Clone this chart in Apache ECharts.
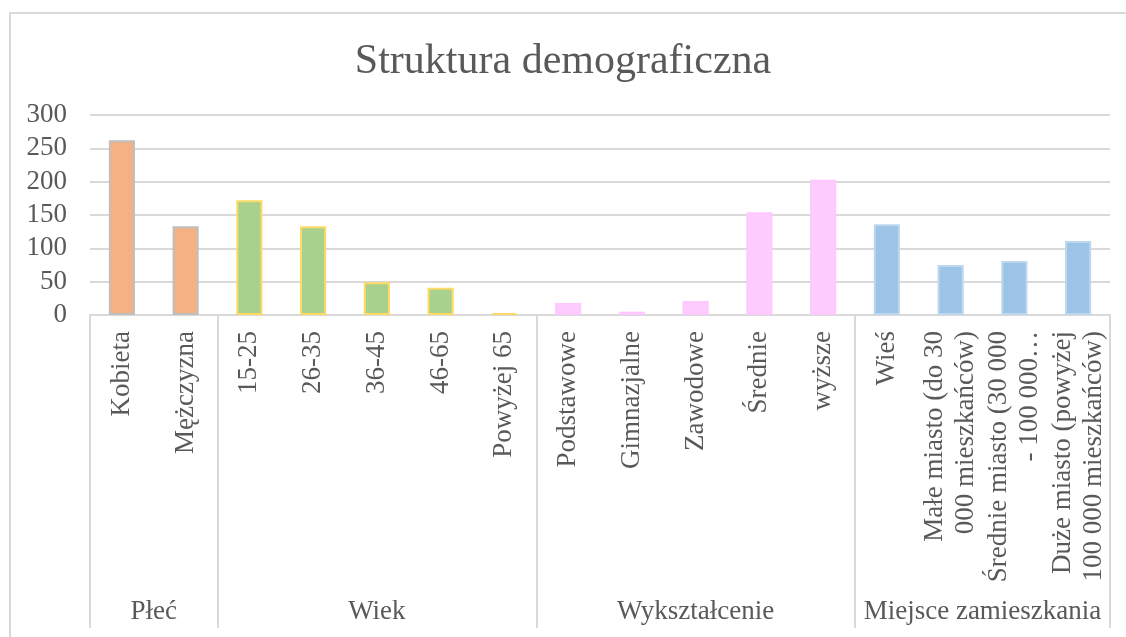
<!DOCTYPE html>
<html>
<head>
<meta charset="utf-8">
<script src="https://cdn.jsdelivr.net/npm/echarts@6/dist/echarts.min.js"></script>
<style>
  html, body { margin: 0; padding: 0; background: #fff; }
  #wrap { position: relative; width: 1126px; height: 637px; overflow: hidden; }
  #chart { position: absolute; left: 0; top: 0; width: 1126px; height: 637px; }
  #frame {
    position: absolute; left: 9px; top: 12px; width: 1300px; height: 800px;
    border-left: 2px solid #d9d9d9; border-top: 2px solid #d9d9d9;
    pointer-events: none;
  }
</style>
</head>
<body>
<div id="wrap">
  <div id="chart"></div>
  <div id="frame"></div>
</div>
<script>
// dane
const groups = ["Płeć", "Wiek", "Wykształcenie", "Miejsce zamieszkania"];
const groupSizes = [2, 5, 5, 4];
const categories = [
  "Kobieta", "Mężczyzna",
  "15-25", "26-35", "36-45", "46-65", "Powyżej 65",
  "Podstawowe", "Gimnazjalne", "Zawodowe", "Średnie", "wyższe",
  "Wieś", "Małe miasto (do 30\n000 mieszkańców)", "Średnie miasto (30 000\n- 100 000…", "Duże miasto (powyżej\n100 000 mieszkańców)"
];
const values = [262, 133, 172, 133, 49, 41, 3, 18, 5, 21, 154, 203, 136, 75, 81, 111];
const yMin = 0, yMax = 300, yStep = 50;

// kolory grup
const groupColors = ["#F4B183", "#A9D18E", "#FFCCFF", "#9DC3E6"];
const groupBorders = ["#BFBFBF", "#FFD966", "#FFC8FF", "#BDD7EE"];

const font = "'Liberation Serif', 'Times New Roman', serif";
const textColor = "#595959";
const lineColor = "#D9D9D9";

// indeks grupy dla kazdej kategorii
let groupOf = [];
groupSizes.forEach((n, g) => { for (let i = 0; i < n; i++) groupOf.push(g); });

// druga os: 2 punkty na kategorie (polowki), granice i srodki grup
let half = [];
let boundaries = [0];
let centers = {};
let acc = 0;
groupSizes.forEach((n, g) => {
  centers[acc + n] = groups[g];        // srodek grupy w polowkach
  acc += n * 2;
  boundaries.push(acc);
});
for (let i = 0; i <= categories.length * 2; i++) half.push(centers[i] || "");

let myChart = echarts.init(document.getElementById("chart"));
let option = {
  animation: false,
  title: {
    text: "Struktura demograficzna",
    left: "center",
    top: 36,
    textStyle: { fontFamily: font, fontSize: 42, fontWeight: "normal", color: textColor }
  },
  grid: { left: 90, right: 16, top: 115, bottom: 322, containLabel: false },
  xAxis: [
    {
      type: "category",
      data: categories,
      axisLine: { lineStyle: { color: lineColor, width: 2 } },
      axisTick: { show: false },
      axisLabel: {
        rotate: 90,
        interval: 0,
        margin: 16,
        fontFamily: font,
        fontSize: 27,
        lineHeight: 31,
        color: textColor
      }
    },
    {
      type: "category",
      position: "bottom",
      boundaryGap: false,
      data: half,
      axisLine: { show: false },
      axisTick: {
        show: true,
        length: 313,
        interval: (i) => boundaries.indexOf(i) >= 0,
        lineStyle: { color: lineColor, width: 2 }
      },
      axisLabel: {
        interval: (i, v) => v !== "",
        margin: 283,
        fontFamily: font,
        fontSize: 27,
        color: textColor
      }
    }
  ],
  yAxis: {
    type: "value",
    min: yMin,
    max: yMax,
    interval: yStep,
    axisLine: { show: false },
    axisTick: { show: false },
    splitLine: { lineStyle: { color: lineColor, width: 2 } },
    axisLabel: { margin: 23, fontFamily: font, fontSize: 27, color: textColor }
  },
  series: [
    {
      type: "bar",
      xAxisIndex: 0,
      barWidth: "41%",
      data: values.map((v, i) => ({
        value: v,
        itemStyle: {
          color: groupColors[groupOf[i]],
          borderColor: groupBorders[groupOf[i]],
          borderWidth: 2
        }
      }))
    }
  ]
};
myChart.setOption(option);
</script>
</body>
</html>
